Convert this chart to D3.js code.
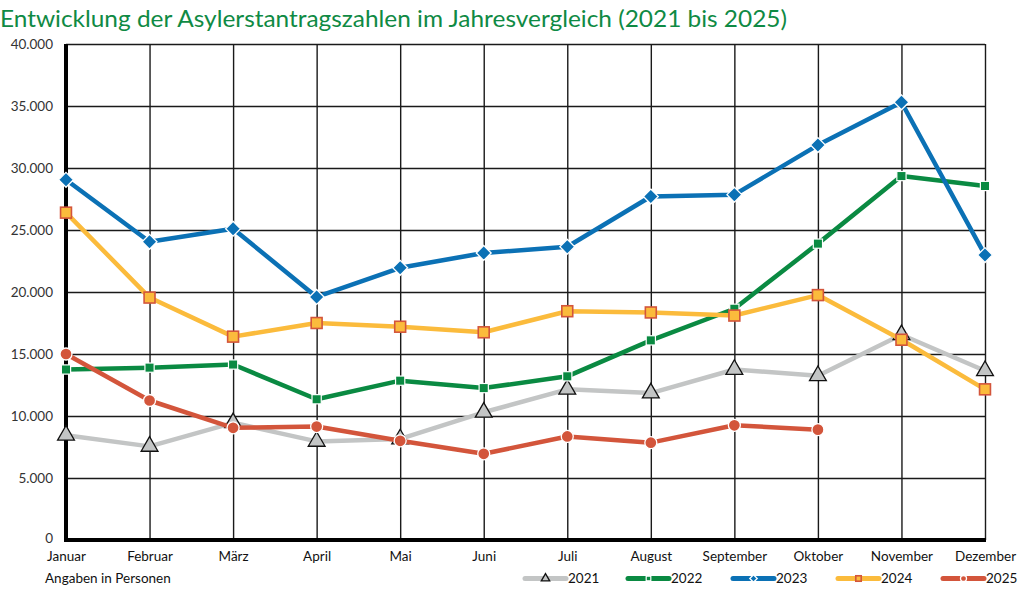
<!DOCTYPE html>
<html>
<head>
<meta charset="utf-8">
<script src="https://cdn.jsdelivr.net/npm/d3@7"></script>
<style>
  html, body { margin: 0; padding: 0; background: #fff; }
  svg { display: block; }
  text { font-family: Lato, "Open Sans", sans-serif; }
</style>
</head>
<body>
<svg id="chart" width="1024" height="592"></svg>
<script>
const months = ["Januar","Februar","März","April","Mai","Juni","Juli","August","September","Oktober","November","Dezember"];
const yTicks = [0,5000,10000,15000,20000,25000,30000,35000,40000];
const years = ["2021","2022","2023","2024","2025"];

const values2021 = [8450,7550,9450,7950,8150,10300,12150,11850,13750,13250,16550,13650];
const values2022 = [13750,13900,14150,11350,12850,12250,13200,16100,18650,23900,29350,28550];
const values2023 = [29050,24050,25100,19600,21950,23150,23650,27700,27850,31850,35300,22980];
const values2024 = [26400,19550,16400,17500,17200,16750,18450,18350,18100,19750,16150,12150];
const values2025 = [15000,11250,9050,9150,8000,6950,8350,7850,9250,8900];

const seriesValues = [values2021, values2022, values2023, values2024, values2025];
const colors = ["#c3c5c5","#0a8a42","#0b71b5","#fbbb3c","#d3553b"];
const markers = ["triangle","square","diamond","squareOutline","circle"];

const svg = d3.select("#chart");
const margin = {left: 66, right: 39, top: 44, bottom: 52};
const W = 1024, H = 592;

const x = d3.scalePoint().domain(months).range([margin.left, W - margin.right]);
const y = d3.scaleLinear().domain([0, 40000]).range([H - margin.bottom, margin.top]);

const fmt = v => v === 0 ? "0" : d3.format(",")(v).replace(/,/g, ".");

// title
svg.append("text")
  .attr("x", 0).attr("y", 27)
  .attr("fill", "#0f8a44")
  .attr("font-size", 24)
  .attr("textLength", 787)
  .attr("lengthAdjust", "spacingAndGlyphs")
  .text("Entwicklung der Asylerstantragszahlen im Jahresvergleich (2021 bis 2025)");

// grid horizontal
svg.append("g")
  .attr("transform", `translate(${margin.left},0)`)
  .call(d3.axisLeft(y).tickValues(yTicks).tickSize(-(W - margin.right - margin.left)).tickFormat(""))
  .call(g => g.select(".domain").remove())
  .call(g => g.selectAll(".tick line").attr("stroke", "#1a1a1a").attr("stroke-width", 1.4));

// grid vertical
svg.append("g")
  .attr("transform", `translate(0,${margin.top})`)
  .call(d3.axisBottom(x).tickSize(H - margin.bottom - margin.top).tickFormat(""))
  .call(g => g.select(".domain").remove())
  .call(g => g.selectAll(".tick line").attr("stroke", "#1a1a1a").attr("stroke-width", 1.4));

// y labels
svg.append("g")
  .attr("transform", `translate(${margin.left},0)`)
  .call(d3.axisLeft(y).tickValues(yTicks).tickSize(0).tickPadding(13).tickFormat(fmt))
  .call(g => g.select(".domain").remove())
  .call(g => g.selectAll("text").attr("font-size", 13.5).attr("fill", "#333"))
  .call(g => g.selectAll(".tick").filter(d => d === 0).select("text").attr("dy", "0.2em"));

// x labels
svg.append("g")
  .attr("transform", `translate(0,${H - margin.bottom})`)
  .call(d3.axisBottom(x).tickSize(0).tickPadding(11))
  .call(g => g.select(".domain").remove())
  .call(g => g.selectAll("text").attr("font-size", 13.5).attr("fill", "#111"));

// axes thick lines
svg.append("line")
  .attr("x1", margin.left).attr("x2", margin.left)
  .attr("y1", y(40000)).attr("y2", y(0) + 2)
  .attr("stroke", "#000").attr("stroke-width", 4);
svg.append("line")
  .attr("x1", margin.left - 2).attr("x2", W - margin.right + 1)
  .attr("y1", y(0)).attr("y2", y(0))
  .attr("stroke", "#000").attr("stroke-width", 4);

function drawMarker(g, type, color, size) {
  const s = size;
  if (type === "triangle") {
    g.append("path").attr("d", d3.symbol(d3.symbolTriangle, s * s * 0.85)())
      .attr("fill", "#c3c5c5").attr("stroke", "#111").attr("stroke-width", 1.3);
  } else if (type === "square") {
    g.append("rect").attr("x", -s/2.6).attr("y", -s/2.6).attr("width", s/1.3).attr("height", s/1.3)
      .attr("fill", color).attr("stroke", "#fff").attr("stroke-width", 1.2);
  } else if (type === "diamond") {
    const r = s * 0.62;
    g.append("path").attr("d", `M0,${-r}L${r},0L0,${r}L${-r},0Z`)
      .attr("fill", color).attr("stroke", "#fff").attr("stroke-width", 1.3);
  } else if (type === "squareOutline") {
    g.append("rect").attr("x", -s/2.2).attr("y", -s/2.2).attr("width", s/1.1).attr("height", s/1.1)
      .attr("fill", color).attr("stroke", "#d3553b").attr("stroke-width", 1.6);
  } else if (type === "circle") {
    g.append("circle").attr("r", s/2)
      .attr("fill", color).attr("stroke", "#fff").attr("stroke-width", 1.3);
  }
}

const line = d3.line().x((d, i) => x(months[i])).y(d => y(d));

seriesValues.forEach((vals, k) => {
  const g = svg.append("g");
  g.append("path")
    .datum(vals)
    .attr("d", line)
    .attr("fill", "none")
    .attr("stroke", colors[k])
    .attr("stroke-width", 4.5)
    .attr("stroke-linejoin", "round");
  vals.forEach((v, i) => {
    const mg = g.append("g").attr("transform", `translate(${x(months[i])},${y(v)})`);
    drawMarker(mg, markers[k], colors[k], 12);
  });
});

// footer note
svg.append("text").attr("x", 45).attr("y", 583)
  .attr("font-size", 13.5).attr("fill", "#111")
  .text("Angaben in Personen");

// legend
const legendX = [525, 628, 733, 838, 943];
const legY = 578.5;
years.forEach((yr, k) => {
  const g = svg.append("g").attr("transform", `translate(${legendX[k]},${legY})`);
  g.append("line").attr("x1", 0).attr("x2", 41).attr("y1", 0).attr("y2", 0)
    .attr("stroke", colors[k]).attr("stroke-width", 5).attr("stroke-linecap", "round");
  const mg = g.append("g").attr("transform", "translate(20.5,0)");
  drawMarker(mg, markers[k], colors[k], 6);
  g.append("text").attr("x", 43).attr("y", 4.7)
    .attr("font-size", 13.5).attr("fill", "#111").text(yr);
});
</script>
</body>
</html>
